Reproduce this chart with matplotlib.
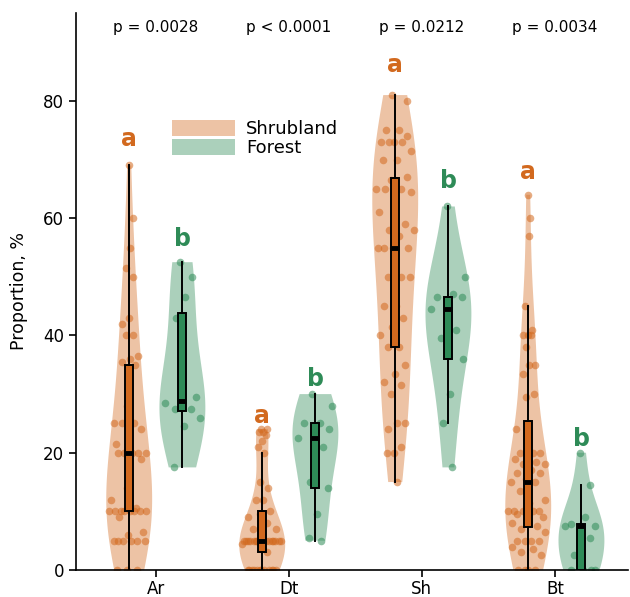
import numpy as np
import matplotlib.pyplot as plt
from matplotlib.mlab import GaussianKDE
from matplotlib.patches import Patch

sites = ["Ar", "Dt", "Sh", "Bt"]
p_labels = ["p = 0.0028", "p < 0.0001", "p = 0.0212", "p = 0.0034"]
habitats = ["Shrubland", "Forest"]

# proportions (%) per plot
ar_shrub = [69, 60, 55, 51.5, 50, 43, 42, 40, 40, 36.5, 36, 35.5, 35, 28,
            25, 25, 25, 24, 23, 21.5, 20, 20, 20, 20, 20, 19, 14, 12, 10.5,
            10, 10, 10, 10, 10, 10, 10, 10, 9, 6.5, 6, 5, 5, 5, 5, 5, 5,
            0, 0, 0]
ar_forest = [52.5, 50, 46.5, 43, 29.5, 29, 28.5, 27.5, 27.5, 26, 24.5, 17.5]

dt_shrub = [24, 24, 23.5, 23.5, 23, 22, 21, 20, 15, 14, 12, 12, 10,
            9.5, 9, 8, 7, 7, 6, 5, 5, 5, 5, 5, 5, 5, 5, 5, 5, 5, 5, 5, 5,
            5, 5, 4.5, 3, 0, 0, 0, 0, 0, 0, 0, 0, 0, 0, 0, 0]
dt_forest = [30, 28, 25, 25, 24, 23, 22.5, 21, 15, 14, 9.5, 5.5, 5]

sh_shrub = [81, 80, 75, 75, 74, 73, 73, 73, 73, 71.5, 70, 70, 67, 66.5,
            65, 65, 65, 64.5, 63.5, 61, 59, 58, 58, 57, 55, 55, 55, 55,
            50, 50, 50, 45, 45, 43, 41.5, 40, 38, 38, 35, 33.5, 32, 31.5,
            30, 25, 25, 24, 21, 20, 20, 15]
sh_forest = [62, 50, 47, 46.5, 46.5, 45, 44.5, 41, 39.5, 36, 30, 25, 17.5]

bt_shrub = [64, 60, 57, 45, 41, 40, 40, 40, 38, 35, 35, 33.5, 30, 29.5,
            24, 20, 20, 20, 20, 19, 18.5, 18, 18, 17, 16.5, 16.5, 15.5, 15,
            15, 13.5, 12, 11.5, 10, 10, 10, 10, 10, 9.5, 9, 8.5, 8, 7.5,
            7, 6.5, 5, 5, 5, 5, 4, 3.5, 3, 2.5, 0, 0, 0, 0]
bt_forest = [20, 14.5, 9, 7.8, 7.5, 7.5, 7.5, 5.5, 2.5, 0, 0, 0, 0]

letters = ["a", "b", "a", "b", "a", "b", "a", "b"]
letter_y = [73.5, 56.4, 26.3, 32.6, 86.1, 66.4, 67.9, 22.3]

groups = [ar_shrub, ar_forest, dt_shrub, dt_forest,
          sh_shrub, sh_forest, bt_shrub, bt_forest]

dark = ["#D2691E", "#2E8B57"]
offset = 0.2
vwidth = 0.345
bw_scale = 1.25

fig = plt.figure(figsize=(6.3, 5.97), dpi=100)
ax = fig.add_axes([76 / 630, 27 / 597, 552 / 630, 557 / 597])

for k, vals in enumerate(groups):
    site = k // 2
    h = k % 2
    pos = site + (-offset if h == 0 else offset)
    vals = np.array(vals, dtype=float)
    col = dark[h]
    bw = len(vals) ** -0.2 * bw_scale

    parts = ax.violinplot(vals, positions=[pos], widths=vwidth,
                          showextrema=False, bw_method=bw)
    for b in parts["bodies"]:
        b.set_facecolor(col)
        b.set_edgecolor("none")
        b.set_alpha(0.4)
        b.set_zorder(1)

    # jitter points inside the violin outline
    kde = GaussianKDE(vals, bw)
    grid = np.linspace(vals.min(), vals.max(), 200)
    dmax = kde.evaluate(grid).max()
    half = kde.evaluate(vals) / dmax * vwidth / 2
    u = ((np.arange(len(vals)) * 0.618034 + 0.37) % 1) * 2 - 1
    ax.scatter(pos + u * half * 0.9, vals, s=30, color=col, alpha=0.55,
               linewidths=0, zorder=2)

    ax.boxplot(vals, positions=[pos], widths=0.06, patch_artist=True,
               showfliers=False, showcaps=False, manage_ticks=False,
               boxprops=dict(facecolor=col, edgecolor="black", linewidth=1.4),
               medianprops=dict(color="black", linewidth=3.5),
               whiskerprops=dict(color="black", linewidth=1.4),
               zorder=3)

    ax.text(pos, letter_y[k], letters[k], ha="center", va="center",
            fontsize=17, fontweight="bold", color=col)

for i, p in enumerate(p_labels):
    ax.text(i, 92.6, p, ha="center", va="center", fontsize=11)

ax.set_xlim(-0.6, 3.55)
ax.set_ylim(0, 95)
ax.set_xticks(range(len(sites)))
ax.set_xticklabels(sites, fontsize=12)
ax.set_yticks([0, 20, 40, 60, 80])
ax.tick_params(axis="y", labelsize=12)
ax.tick_params(length=5, width=1.2)
ax.tick_params(axis="x", pad=2)
ax.set_ylabel("Proportion, %", fontsize=12.5, labelpad=11)
for s in ["top", "right"]:
    ax.spines[s].set_visible(False)
for s in ["left", "bottom"]:
    ax.spines[s].set_linewidth(1.2)

handles = [Patch(facecolor=dark[0], alpha=0.4, edgecolor="none"),
           Patch(facecolor=dark[1], alpha=0.4, edgecolor="none")]
ax.legend(handles, habitats, loc="upper left", bbox_to_anchor=(0.145, 0.837),
          frameon=False, fontsize=13, handlelength=3.5, handleheight=1.0,
          labelspacing=0.05, handletextpad=0.6)

fig.savefig("out.png", dpi=100)
